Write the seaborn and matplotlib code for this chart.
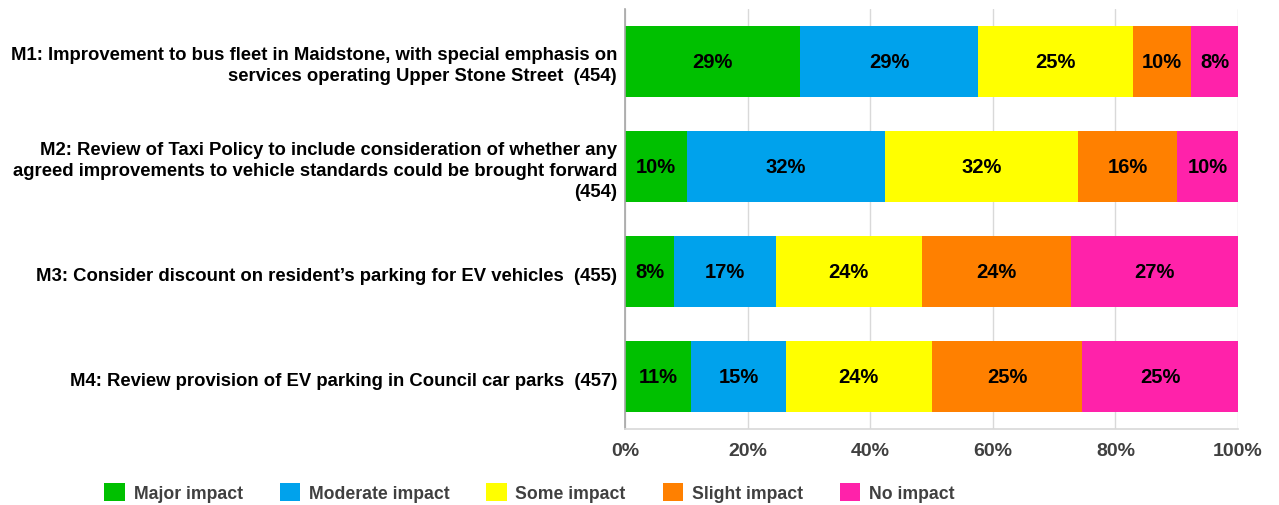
import numpy as np
import pandas as pd
import seaborn as sns
import matplotlib.pyplot as plt
from matplotlib.patches import Patch

# measures, wrapped as in the original chart
measures = [
    'M1: Improvement to bus fleet in Maidstone, with special emphasis on\nservices operating Upper Stone Street  (454)',
    'M2: Review of Taxi Policy to include consideration of whether any\nagreed improvements to vehicle standards could be brought forward\n(454)',
    'M3: Consider discount on resident\u2019s parking for EV vehicles  (455)',
    'M4: Review provision of EV parking in Council car parks  (457)',
]
impacts = ['Major impact', 'Moderate impact', 'Some impact', 'Slight impact', 'No impact']
major = [28.6, 10.1, 8.0, 10.8]
moderate = [29.0, 32.3, 16.6, 15.4]
some = [25.2, 31.5, 23.8, 23.8]
slight = [9.6, 16.1, 24.4, 24.6]
none_ = [7.6, 10.0, 27.2, 25.4]
colours = ['#00C000', '#00A2EC', '#FFFF00', '#FF8000', '#FF22AA']

df = pd.DataFrame({'measure': measures, 'Major impact': major,
                   'Moderate impact': moderate, 'Some impact': some,
                   'Slight impact': slight, 'No impact': none_})
cum = df[impacts].cumsum(axis=1)

sns.set_theme(style='white')
plt.rcParams['font.family'] = ['Liberation Sans', 'DejaVu Sans']
plt.rcParams['font.weight'] = 'bold'

fig = plt.figure(figsize=(12.79, 5.06), dpi=100)
ax = fig.add_axes([0.4887, 0.150, 0.4793, 0.830])

# draw the cumulative totals from the largest down so each segment shows
for col, c in reversed(list(zip(impacts, colours))):
    sns.barplot(data=cum.assign(measure=measures), x=col, y='measure',
                color=c, width=0.68, saturation=1, linewidth=0, ax=ax)

# percentage labels in the middle of each segment
for i in range(len(measures)):
    start = 0
    for col in impacts:
        v = df.loc[i, col]
        ax.text(start + v / 2, i, f'{v:.0f}%', ha='center', va='center',
                fontsize=14.5, fontweight='bold', color='black')
        start += v

ax.set_xlim(0, 100)
ax.set_ylim(3.5, -0.5)
ax.set_xticks(np.arange(0, 101, 20))
ax.set_xticklabels([f'{t}%' for t in range(0, 101, 20)])
ax.xaxis.grid(True, color='#D9D9D9', linewidth=1)
ax.set_axisbelow(True)
ax.set_xlabel('')
ax.set_ylabel('')
ax.tick_params(axis='x', labelsize=14, colors='#404040', pad=9, length=0)
for lab in ax.get_xticklabels():
    lab.set_fontweight('bold')

# category labels drawn as text so the line spacing can be opened up
ax.set_yticklabels([])
ax.tick_params(axis='y', length=0)
for i, m in enumerate(measures):
    ax.text(-1.3, i + 0.035, m, ha='right', va='center', multialignment='right',
            fontsize=13.3, fontweight='bold', color='black', linespacing=1.32,
            clip_on=False)

for s in ['top', 'right']:
    ax.spines[s].set_visible(False)
ax.spines['left'].set_color('#A6A6A6')
ax.spines['left'].set_linewidth(1.2)
ax.spines['bottom'].set_color('#D9D9D9')

handles = [Patch(facecolor=c, edgecolor='none', label=l) for l, c in zip(impacts, colours)]
leg = fig.legend(handles=handles, loc='center', bbox_to_anchor=(0.414, 0.024), ncol=5,
                 frameon=False, fontsize=12.7, handlelength=1.15, handleheight=1.15,
                 handletextpad=0.5, columnspacing=2.1)
for t in leg.get_texts():
    t.set_color('#404040')
    t.set_fontweight('bold')

fig.savefig('out.png', dpi=100)
